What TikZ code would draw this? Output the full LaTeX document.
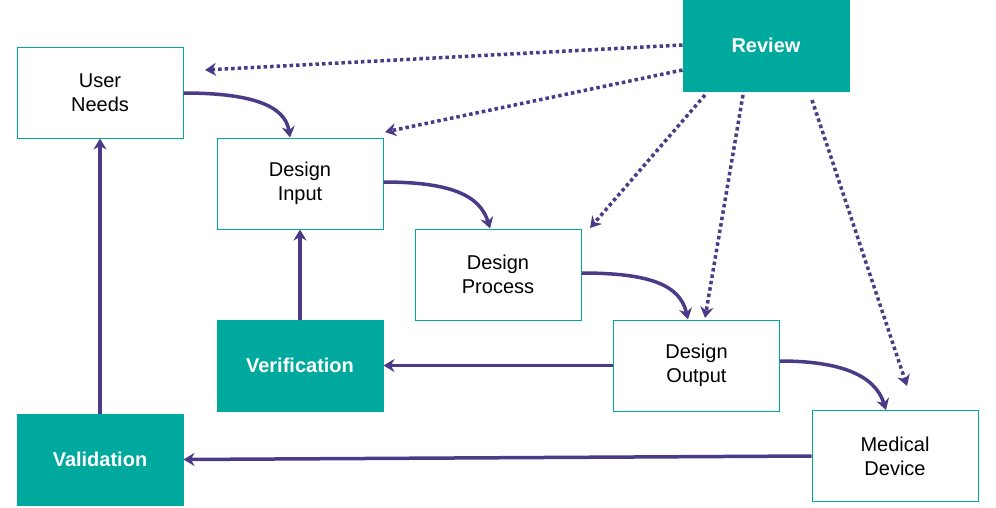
\documentclass[tikz,border=0pt]{standalone}
\usepackage{fontspec}
\setmainfont{Liberation Sans}
\usetikzlibrary{arrows.meta}
\definecolor{teal1}{HTML}{00A99D}
\definecolor{purp}{HTML}{4B3A87}
\begin{document}
\begin{tikzpicture}[x=1pt,y=-1pt,
 box/.style={draw=teal1,line width=1pt,fill=white,minimum width=166pt,minimum height=91pt,align=center,font=\fontsize{20}{24}\selectfont,inner sep=0pt},
 fbox/.style={box,fill=teal1,text=white,font=\bfseries\fontsize{20}{24}\selectfont},
 arr/.style={draw=purp,line width=3.5pt,-{Stealth[length=11pt,width=13pt]}},
 dot/.style={arr,dash pattern=on 3.5pt off 3pt}]
\useasboundingbox (0,0) rectangle (996,507);
\node[box] (un) at (100,92.5) {User\\Needs};
\node[box] (di) at (300,183.5) {Design\\Input};
\node[box] (dp) at (498,274.5) {Design\\Process};
\node[box] (do) at (696.5,365.5) {Design\\Output};
\node[box] (md) at (895,456) {Medical\\Device};
\node[fbox] (rv) at (766,45.5) {Review};
\node[fbox] (ve) at (300,365.5) {Verification};
\node[fbox] (va) at (100,459.5) {Validation};
\coordinate (t1) at (205,70);
\coordinate (t2) at (385,132);
\coordinate (t3) at (590,228);
\coordinate (t4) at (705,318);
\coordinate (t5) at (907,386);
\draw[dot] (rv.west |- 0,45) -- (t1);
\draw[dot] (rv.west |- 0,70) -- (t2);
\draw[dot] (705,95) -- (t3);
\draw[dot] (743,95) -- (t4);
\draw[dot] (812,100) -- (t5);
\draw[arr] (un.east |- 0,93) .. controls (250,93) and (285,105) .. (di.north -| 290,0);
\draw[arr] (di.east |- 0,182) .. controls (450,182) and (480,195) .. (dp.north -| 490,0);
\draw[arr] (dp.east |- 0,273) .. controls (650,273) and (680,285) .. (do.north -| 688,0);
\draw[arr] (do.east |- 0,361) .. controls (840,361) and (875,375) .. (md.north -| 886,0);
\draw[arr] (ve.north) -- (di.south);
\draw[arr] (do.west) -- (ve.east);
\draw[arr] (md.west) -- (va.east);
\draw[arr] (va.north) -- (un.south);
\end{tikzpicture}
\end{document}
